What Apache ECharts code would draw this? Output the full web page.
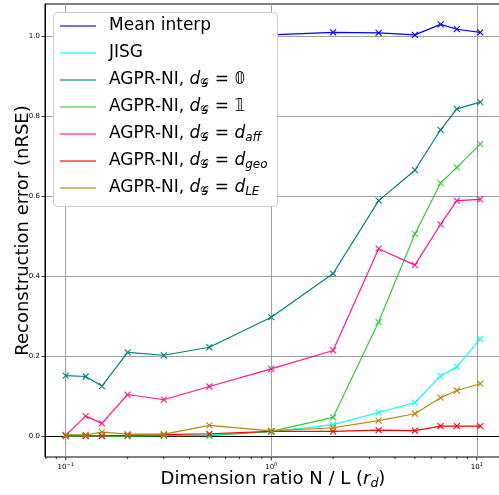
<!DOCTYPE html>
<html lang="en">
<head>
<meta charset="UTF-8">
<title>Reconstruction error vs dimension ratio</title>
<script src="https://cdn.jsdelivr.net/npm/echarts@6/dist/echarts.min.js"></script>
<style>html, body { margin: 0; padding: 0; background: #fff; }</style>
</head>
<body>
<div id="chart" style="width: 499px; height: 495px;"></div>
<script>
// data
var ratios = [0.1, 0.125, 0.15, 0.2, 0.3, 0.5, 1, 2, 3.33, 5, 6.67, 8, 10.4];
var meanInterp = [1.0, 1.0, 1.0, 1.0, 1.0, 1.0, 1.003, 1.009, 1.008, 1.003, 1.029, 1.017, 1.009];
var jisg = [0.002, 0.002, 0.002, 0.002, 0.003, 0.004, 0.012, 0.030, 0.060, 0.085, 0.151, 0.174, 0.244];
var agprZero = [0.152, 0.150, 0.126, 0.210, 0.203, 0.223, 0.298, 0.407, 0.589, 0.665, 0.766, 0.818, 0.835];
var agprOne = [0.001, 0.001, 0.001, 0.001, 0.002, 0.002, 0.013, 0.048, 0.286, 0.506, 0.633, 0.672, 0.730];
var agprAff = [0.003, 0.051, 0.033, 0.105, 0.092, 0.125, 0.169, 0.215, 0.469, 0.428, 0.530, 0.589, 0.592];
var agprGeo = [0.003, 0.002, 0.002, 0.003, 0.005, 0.007, 0.013, 0.013, 0.016, 0.015, 0.026, 0.026, 0.026];
var agprLE = [0.004, 0.004, 0.011, 0.006, 0.006, 0.028, 0.014, 0.022, 0.040, 0.057, 0.097, 0.115, 0.132];

var yTicks = [0, 0.2, 0.4, 0.6, 0.8, 1.0];
var xMajorTicks = [0.1, 1, 10];
var xMinorTicks = [0.08, 0.09, 0.2, 0.3, 0.4, 0.5, 0.6, 0.7, 0.8, 0.9, 2, 3, 4, 5, 6, 7, 8, 9];

var xMin = 0.07926, xMax = 13.12;
var yMin = -0.051, yMax = 1.08;

var seriesList = [
    { name: 'Mean interp', color: '#0000ff', values: meanInterp,
      label: 'Mean interp' },
    { name: 'JISG', color: '#00ffff', values: jisg,
      label: 'JISG' },
    { name: 'AGPR-NI, dG = 0', color: '#008080', values: agprZero,
      label: 'AGPR-NI, {i|d}{g|𝒢} = 𝟘' },
    { name: 'AGPR-NI, dG = 1', color: '#32cd32', values: agprOne,
      label: 'AGPR-NI, {i|d}{g|𝒢} = 𝟙' },
    { name: 'AGPR-NI, dG = daff', color: '#ff1493', values: agprAff,
      label: 'AGPR-NI, {i|d}{g|𝒢} = {i|d}{s|aff}' },
    { name: 'AGPR-NI, dG = dgeo', color: '#ff0000', values: agprGeo,
      label: 'AGPR-NI, {i|d}{g|𝒢} = {i|d}{s|geo}' },
    { name: 'AGPR-NI, dG = dLE', color: '#b8860b', values: agprLE,
      label: 'AGPR-NI, {i|d}{g|𝒢} = {i|d}{s|LE}' }
];

var font = 'DejaVu Sans';
var crossPath = 'path://M0,0L10,10M10,0L0,10';

var chart = echarts.init(document.getElementById('chart'));

var series = seriesList.map(function (s) {
    return {
        name: s.name,
        type: 'line',
        zlevel: 0,
        z: 2,
        data: ratios.map(function (r, i) { return [r, s.values[i]]; }),
        color: s.color,
        symbol: crossPath,
        symbolSize: 6,
        showSymbol: true,
        itemStyle: { color: s.color, borderColor: s.color, borderWidth: 1.1 },
        lineStyle: { color: s.color, width: 1.2 },
        emphasis: { disabled: true },
        animation: false
    };
});

// log-axis ticks (major and minor), placed through the x axis scale
series.push({
    type: 'custom',
    silent: true,
    clip: false,
    animation: false,
    data: xMajorTicks.map(function (v) { return [v, 0]; })
        .concat(xMinorTicks.map(function (v) { return [v, 1]; })),
    encode: { x: 0, y: 1 },
    renderItem: function (params, api) {
        var p = api.coord([api.value(0), yMin]);
        var len = api.value(1) === 0 ? 3.5 : 2;
        return {
            type: 'line',
            shape: { x1: p[0], y1: p[1], x2: p[0], y2: p[1] + len },
            style: { stroke: '#000', lineWidth: 0.8 }
        };
    }
});

var labelMap = {};
seriesList.forEach(function (s) { labelMap[s.name] = s.label; });

var option = {
    backgroundColor: '#fff',
    animation: false,
    // legend frame drawn over the plot
    graphic: {
        zlevel: 1,
        z: 100,
        elements: [{
            type: 'rect',
            left: 53,
            top: 12,
            zlevel: 1,
            z: 100,
            silent: true,
            shape: { width: 224, height: 194, r: 4 },
            style: { fill: '#ffffff', stroke: '#cccccc', lineWidth: 1 }
        }]
    },
    grid: {
        left: 45,
        top: 4,
        width: 456,
        height: 453,
        show: true,
        borderColor: '#000',
        borderWidth: 1,
        backgroundColor: 'transparent',
        containLabel: false,
        outerBoundsMode: 'none'
    },
    legend: {
        zlevel: 1,
        z: 110,
        orient: 'vertical',
        left: 53,
        top: 12,
        padding: [4, 10, 8, 7],
        itemGap: 7,
        itemWidth: 36,
        itemHeight: 1.5,
        icon: 'rect',
        backgroundColor: 'transparent',
        borderWidth: 0,
        data: seriesList.map(function (s) {
            return { name: s.name, itemStyle: { color: s.color, borderWidth: 0, opacity: 0.75 } };
        }),
        formatter: function (name) { return labelMap[name]; },
        textStyle: {
            fontFamily: font,
            fontSize: 17,
            lineHeight: 20,
            color: '#000',
            padding: [0, 0, 0, 8],
            rich: {
                i: { fontFamily: font, fontSize: 17, lineHeight: 20, fontStyle: 'italic' },
                g: { fontFamily: font, fontSize: 12, lineHeight: 13, padding: [7, 0, 0, 0] },
                s: { fontFamily: font, fontSize: 12, lineHeight: 13, padding: [7, 0, 0, 0], fontStyle: 'italic' }
            }
        }
    },
    xAxis: {
        type: 'log',
        logBase: 10,
        min: xMin,
        max: xMax,
        name: 'Dimension ratio N / L ({i|r}{s|d})',
        nameLocation: 'middle',
        nameGap: 12,
        nameMoveOverlap: false,
        nameTextStyle: {
            fontFamily: font,
            fontSize: 18,
            color: '#000',
            rich: {
                i: { fontFamily: font, fontSize: 18, fontStyle: 'italic' },
                s: { fontFamily: font, fontSize: 12.6, fontStyle: 'italic', padding: [8, 0, 0, 0] }
            }
        },
        axisLine: { lineStyle: { color: '#000', width: 1 } },
        axisTick: { show: false },
        axisLabel: {
            showMinLabel: false,
            showMaxLabel: false,
            margin: 5,
            fontFamily: font,
            fontSize: 7,
            color: '#000',
            formatter: function (v) {
                var e = Math.log10(v);
                if (Math.abs(e - Math.round(e)) > 1e-6) { return ''; }
                e = Math.round(e);
                return '10{sup|' + (e < 0 ? '\u2212' + (-e) : e) + '}';
            },
            rich: {
                sup: { fontFamily: font, fontSize: 5, padding: [0, 0, 5, 0] }
            }
        },
        splitLine: { show: true, lineStyle: { color: '#a0a0a0', width: 1 } }
    },
    yAxis: {
        type: 'value',
        min: yMin,
        max: yMax,
        name: 'Reconstruction error (nRSE)',
        nameLocation: 'middle',
        nameGap: 13,
        nameMoveOverlap: false,
        nameTextStyle: { fontFamily: font, fontSize: 18, color: '#000' },
        axisLine: { show: true, lineStyle: { color: '#000', width: 1 } },
        axisTick: { show: true, length: 3.5, customValues: yTicks, lineStyle: { color: '#000', width: 0.8 } },
        axisLabel: {
            customValues: yTicks,
            margin: 5,
            fontFamily: font,
            fontSize: 7,
            color: '#000',
            formatter: function (v) { return v.toFixed(1); }
        },
        splitLine: { show: true, lineStyle: { color: '#a0a0a0', width: 1 } }
    },
    series: series
};

chart.setOption(option);
</script>
</body>
</html>
